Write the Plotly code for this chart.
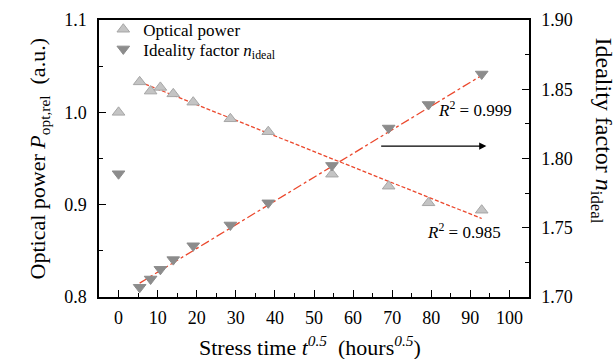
import plotly.graph_objects as go

# Data
stress_time = [0, 5.4, 8.2, 10.7, 14.0, 19.1, 28.6, 38.3, 54.6, 69.1, 79.3, 92.9]
optical_power = [1.000, 1.033, 1.023, 1.027, 1.020, 1.011, 0.993, 0.979, 0.933, 0.920, 0.902, 0.894]
ideality = [1.789, 1.707, 1.713, 1.720, 1.727, 1.737, 1.752, 1.768, 1.795, 1.822, 1.839, 1.861]

fit_x = [5.4, 92.9]
optical_fit = [1.033, 0.885]
ideality_fit = [1.710, 1.860]

x_ticks = [0, 10, 20, 30, 40, 50, 60, 70, 80, 90, 100]
left_ticks = [0.8, 0.9, 1.0, 1.1]
right_ticks = [1.70, 1.75, 1.80, 1.85, 1.90]

FONT = "'Liberation Serif', 'DejaVu Serif', serif"
RED = "rgb(235,72,45)"

fig = go.Figure()

fig.add_trace(go.Scatter(
    x=fit_x, y=optical_fit, mode="lines", showlegend=False,
    line=dict(color=RED, width=1.3, dash="4px,2px"), yaxis="y"))
fig.add_trace(go.Scatter(
    x=fit_x, y=ideality_fit, mode="lines", showlegend=False,
    line=dict(color=RED, width=1.3, dash="dashdot"), yaxis="y2"))

fig.add_trace(go.Scatter(
    x=stress_time, y=optical_power, mode="markers", name="Optical power",
    marker=dict(symbol="triangle-up", size=11, color="#c4c4c4",
                line=dict(color="#a6a6a6", width=1)), yaxis="y", legend="legend"))
fig.add_trace(go.Scatter(
    x=stress_time, y=ideality, mode="markers",
    name="Ideality factor <i>n</i><sub>ideal</sub>",
    marker=dict(symbol="triangle-down", size=11, color="#8c8c8c",
                line=dict(color="#8c8c8c", width=1)), yaxis="y2", legend="legend2"))

axis_common = dict(
    showline=True, linecolor="black", linewidth=1.5,
    ticks="inside", ticklen=7, tickwidth=1, tickcolor="black",
    showgrid=False, zeroline=False, automargin=False,
    tickfont=dict(family=FONT, size=18, color="black"),
)

legend_common = dict(
    xanchor="left", yanchor="middle", bgcolor="rgba(0,0,0,0)",
    font=dict(family=FONT, size=17, color="black"),
)

fig.update_layout(
    width=615, height=359,
    margin=dict(l=99, r=86, t=13, b=62),
    paper_bgcolor="white", plot_bgcolor="white",
    font=dict(family=FONT, color="black"),
    xaxis=dict(
        range=[-5, 105], tickvals=x_ticks, mirror=True, ticklabelstandoff=4,
        minor=dict(dtick=5, tick0=0, ticks="inside", ticklen=4, tickcolor="black"),
        **axis_common),
    yaxis=dict(
        range=[0.8, 1.1], tickvals=left_ticks, tickformat=".1f", ticklabelstandoff=7,
        minor=dict(dtick=0.05, tick0=0.8, ticks="inside", ticklen=4, tickcolor="black"),
        **axis_common),
    yaxis2=dict(
        range=[1.70, 1.90], tickvals=right_ticks, tickformat=".2f", ticklabelstandoff=7,
        overlaying="y", side="right",
        minor=dict(dtick=0.025, tick0=1.70, ticks="inside", ticklen=4, tickcolor="black"),
        **axis_common),
    legend=dict(x=0.01, y=0.965, **legend_common),
    legend2=dict(x=0.01, y=0.894, **legend_common),
)

# Axis titles as annotations
fig.add_annotation(
    xref="paper", yref="paper", x=0.49, y=-0.176, yanchor="middle",
    text="Stress time <i>t</i><sup><i>0.5</i></sup>  (hours<sup><i>0.5</i></sup>)",
    showarrow=False, font=dict(family=FONT, size=22, color="black"))
fig.add_annotation(
    xref="paper", yref="paper", x=-0.177, y=0.5, textangle=-90,
    text="Optical power <i>P</i><sub>opt,rel</sub>  (a.u.)", showarrow=False,
    font=dict(family=FONT, size=22, color="black"))
fig.add_annotation(
    xref="paper", yref="paper", x=1.21, y=0.60, textangle=90,
    text="Ideality factor <i>n</i><sub>ideal</sub>", showarrow=False,
    font=dict(family=FONT, size=24, color="black"))

# R^2 labels
fig.add_annotation(x=91.1, y=1.004, xref="x", yref="y", showarrow=False,
                   text="<i>R</i><sup>2</sup> = 0.999",
                   font=dict(family=FONT, size=17, color="black"))
fig.add_annotation(x=88.3, y=0.872, xref="x", yref="y", showarrow=False,
                   text="<i>R</i><sup>2</sup> = 0.985",
                   font=dict(family=FONT, size=17, color="black"))

# Arrow pointing to right axis
fig.add_annotation(x=94.1, y=1.809, xref="x", yref="y2",
                   ax=66.8, ay=1.809, axref="x", ayref="y2",
                   showarrow=True, arrowhead=2, arrowsize=1.2, arrowwidth=1.2,
                   arrowcolor="black", text="")

fig.write_html("out.html")
